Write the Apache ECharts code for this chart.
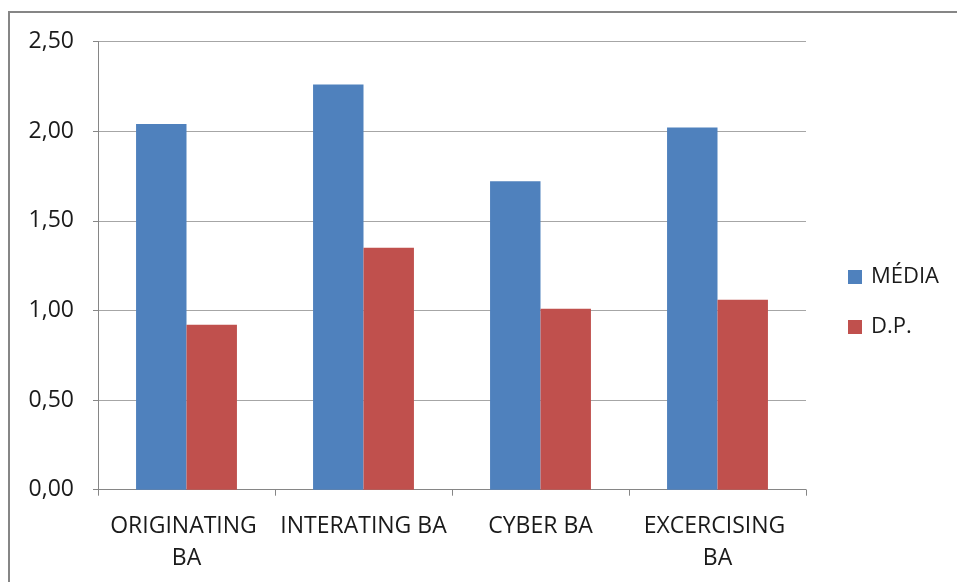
<!DOCTYPE html>
<html>
<head>
<meta charset="utf-8">
<script src="https://cdn.jsdelivr.net/npm/echarts@6/dist/echarts.min.js"></script>
<style>
  html, body { margin: 0; padding: 0; background: #ffffff; }
  #chart { width: 957px; height: 582px; }
</style>
</head>
<body>
<div id="chart"></div>
<script>
// Categories and values
const categories = ['ORIGINATING BA', 'INTERATING BA', 'CYBER BA', 'EXCERCISING BA'];
const mediaValues = [2.04, 2.26, 1.72, 2.02];
const dpValues = [0.92, 1.35, 1.01, 1.06];
const seriesNames = ['MÉDIA', 'D.P.'];

const FONT = '"Open Sans", sans-serif';
const chart = echarts.init(document.getElementById('chart'), null, { renderer: 'canvas' });

chart.setOption({
  animation: false,
  backgroundColor: '#ffffff',
  textStyle: { fontFamily: FONT },
  graphic: [{
    type: 'rect',
    shape: { x: 9, y: 12, width: 1000, height: 700 },
    style: { fill: 'none', stroke: '#868686', lineWidth: 2 },
    z: 0
  }],
  legend: {
    orient: 'vertical',
    left: 843,
    top: 261,
    itemWidth: 14,
    itemHeight: 14,
    itemGap: 28,
    icon: 'rect',
    textStyle: { fontFamily: FONT, fontSize: 22, color: '#1a1a1a', padding: [0, 0, 0, 4] },
    data: seriesNames
  },
  grid: { left: 98, right: 151, top: 41.5, bottom: 92.3, containLabel: false },
  xAxis: {
    type: 'category',
    data: categories,
    axisLine: { show: true, lineStyle: { color: '#868686', width: 1 } },
    axisTick: { show: true, length: 6, lineStyle: { color: '#868686' } },
    axisLabel: {
      interval: 0,
      margin: 21,
      fontFamily: FONT,
      fontSize: 23,
      color: '#1a1a1a',
      width: 170,
      overflow: 'break',
      lineHeight: 32
    }
  },
  yAxis: {
    type: 'value',
    min: 0,
    max: 2.5,
    interval: 0.5,
    axisLine: { show: true, lineStyle: { color: '#868686', width: 1 } },
    axisTick: { show: true, length: 5, lineStyle: { color: '#868686' } },
    splitLine: { show: true, lineStyle: { color: '#a6a6a6', width: 1 } },
    axisLabel: {
      margin: 24,
      fontFamily: FONT,
      fontSize: 23,
      color: '#1a1a1a',
      formatter: v => v.toFixed(2).replace('.', ',')
    }
  },
  series: [
    {
      name: seriesNames[0],
      type: 'bar',
      data: mediaValues,
      barGap: '0%',
      barCategoryGap: '43%',
      itemStyle: { color: '#4f81bd' }
    },
    {
      name: seriesNames[1],
      type: 'bar',
      data: dpValues,
      barGap: '0%',
      barCategoryGap: '43%',
      itemStyle: { color: '#c0504d' }
    }
  ]
});
</script>
</body>
</html>
